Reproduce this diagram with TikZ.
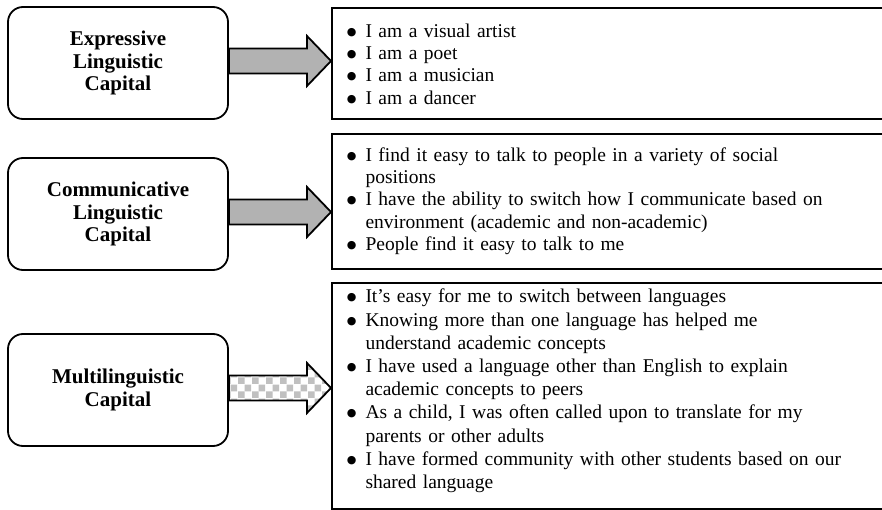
\documentclass[tikz,border=0pt]{standalone}
\usepackage{fontspec}
\setmainfont{Liberation Serif}
\newfontfamily\dotfont{DejaVu Sans}
\usetikzlibrary{calc,patterns.meta}
\definecolor{arrowgray}{RGB}{178,178,178}
\definecolor{checkgray}{RGB}{192,192,192}
\newcommand{\blob}{\raisebox{2pt}{\dotfont\fontsize{11}{11}\selectfont ●}}
\tikzdeclarepattern{
    name=checks,
    type=uncolored,
    bounding box={(0pt,0pt) and (14pt,14pt)},
    tile size={(14pt,14pt)},
    code={
        \fill (0pt,0pt) rectangle (7pt,7pt);
        \fill (7pt,7pt) rectangle (14pt,14pt);
    }
}
\tikzset{
    label-box/.style = {draw, line width=1.8pt, rectangle, rounded corners=15pt, minimum width=220pt, minimum height=112pt, align=center, font=\fontsize{21}{22.5}\selectfont\bfseries},
    list-box/.style = {draw, line width=1.8pt, rectangle, anchor=west, inner xsep=15pt, text width=570pt, align=left, font=\fontsize{19.5}{22.3}\selectfont},
    fat-arrow/.style = {draw, line width=1.8pt, line join=miter, fill=arrowgray},
    checked-arrow/.style = {draw, line width=1.8pt, line join=miter, preaction={fill=white}, preaction={pattern=checks, pattern color=checkgray}},
}

\begin{document}
\begin{tikzpicture}[x=1pt, y=-1pt]
\useasboundingbox (0,0) rectangle (882,510);
\clip (0,0) rectangle (882,510);

% capitals on the left
\node [label-box] (expressive) at (118,63) {Expressive\\Linguistic\\Capital};
\node [label-box] (communicative) at (118,214) {Communicative\\Linguistic\\Capital};
\node [label-box] (multi) at (118,390) {Multilinguistic\\Capital};

% statements on the right
\node [list-box, minimum height=111pt] (expressive-list) at (331,63.5) {\begin{tabular}{@{}l@{\hspace{9pt}}l@{}}
    \\[-17pt]
    \blob & I am a visual artist\\
    \blob & I am a poet\\
    \blob & I am a musician\\
    \blob & I am a dancer
\end{tabular}};
\node [list-box, minimum height=135pt] (communicative-list) at (331,201.5) {\begin{tabular}{@{}l@{\hspace{9pt}}l@{}}
    \blob & I find it easy to talk to people in a variety of social\\
          & positions\\
    \blob & I have the ability to switch how I communicate based on\\
          & environment (academic and non-academic)\\
    \blob & People find it easy to talk to me
\end{tabular}};
\node [list-box, minimum height=224pt, font=\fontsize{19.5}{23.2}\selectfont] (multi-list) at (331,396) {\begin{tabular}{@{}l@{\hspace{9pt}}l@{}}
    \blob & It’s easy for me to switch between languages\\
    \blob & Knowing more than one language has helped me\\
          & understand academic concepts\\
    \blob & I have used a language other than English to explain\\
          & academic concepts to peers\\
    \blob & As a child, I was often called upon to translate for my\\
          & parents or other adults\\
    \blob & I have formed community with other students based on our\\
          & shared language\\[10pt]
\end{tabular}};

% block arrows
\foreach \from/\to/\look in {expressive/expressive-list/fat-arrow, communicative/communicative-list/fat-arrow, multi/multi-list/checked-arrow}{
    \coordinate (tip) at ($(\from.east -| \to.west)+(0,-2)$);
    \draw [\look] ($(\from.east)+(0,-14.5)$) -- ($(tip)+(-24,-12.5)$) -- ++(0,-12.5) -- (tip)
        -- ($(tip)+(-24,25)$) -- ++(0,-12.5) -- ($(\from.east)+(0,10.5)$) -- cycle;
}
\end{tikzpicture}
\end{document}
